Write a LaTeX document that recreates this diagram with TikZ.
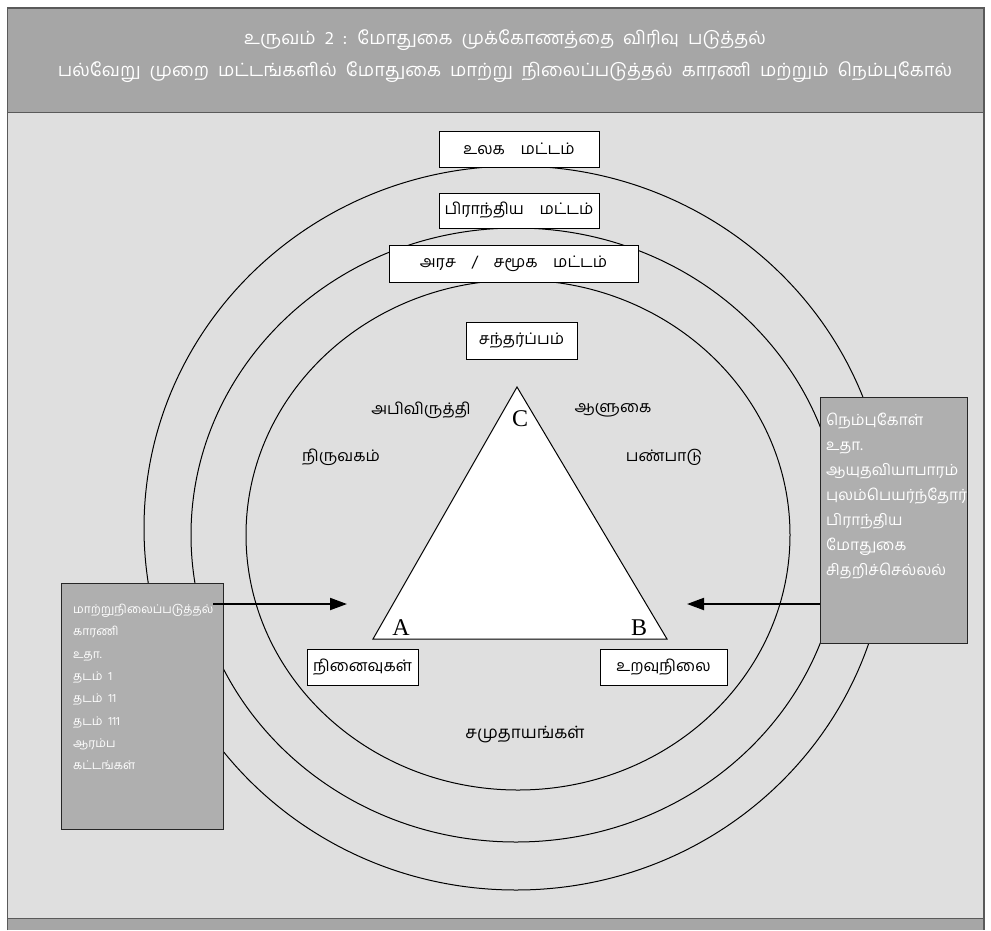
\documentclass[tikz,border=0pt]{standalone}
\usepackage{fontspec}
\setmainfont{Liberation Serif}
\newfontfamily\tamil[Script=Tamil,WordSpace=1.6]{Hind Madurai}
\newfontfamily\tamilwide[Script=Tamil,WordSpace=3.2]{Hind Madurai}
\newfontfamily\tamilhdr[Script=Tamil,WordSpace=2.0]{Hind Madurai}
\usetikzlibrary{arrows.meta}
\definecolor{hdrgray}{HTML}{A6A6A6}
\definecolor{bodygray}{HTML}{DFDFDF}
\definecolor{boxgray}{HTML}{AFAFAF}
\definecolor{framegray}{HTML}{5A5A5A}
\begin{document}
\begin{tikzpicture}[x=1pt,y=-1pt,
  lvlbox/.style={draw=black,fill=white,line width=1pt,inner sep=0pt,font=\tamilwide\fontsize{16}{18}\selectfont},
  ring/.style={draw=black,line width=1pt},
  plain/.style={font=\tamil\fontsize{16}{18}\selectfont,inner sep=0pt},
  corner/.style={font=\fontsize{24}{24}\selectfont,inner sep=0pt},
  sidebox/.style={draw=black!85,fill=boxgray,line width=1.2pt,inner sep=0pt,anchor=north west},
  sidetext/.style={text=white,align=left,inner sep=0pt,anchor=north west},
  arr/.style={line width=2pt,-{Triangle[length=17pt,width=12pt]}},
  hdr/.style={font=\tamilhdr\fontsize{18.3}{32}\selectfont,text=white,align=center,inner sep=0pt}
]
\useasboundingbox (0,0) rectangle (991,930);
\fill[white] (0,0) rectangle (991,930);
\fill[bodygray] (7.5,112.5) rectangle (984,918.5);
\fill[hdrgray] (7.5,8) rectangle (984,112.5);
\fill[hdrgray] (7.5,918.5) rectangle (984,930);
\draw[framegray,line width=1.5pt] (7.5,930) -- (7.5,8) -- (984,8) -- (984,930);
\draw[framegray,line width=1.5pt] (7.5,112.5) -- (984,112.5);
\draw[framegray,line width=1.5pt] (7.5,918.5) -- (984,918.5);

\node[hdr] (title) at (505,56) {உருவம் 2 : மோதுகை முக்கோணத்தை விரிவு படுத்தல்\\
பல்வேறு முறை மட்டங்களில் மோதுகை மாற்று நிலைப்படுத்தல் காரணி மற்றும் நெம்புகோல்};

% rings
\draw[ring] (516,528) ellipse [x radius=372pt, y radius=362pt];
\draw[ring] (516,535) ellipse [x radius=325pt, y radius=307pt];
\draw[ring] (518,535) ellipse [x radius=272pt, y radius=255pt];

% triangle
\draw[fill=white,line width=1pt] (517,387) -- (373,639) -- (667,639) -- cycle;
\node[corner] (C) at (520,419) {C};
\node[corner] (A) at (401,628) {A};
\node[corner] (B) at (639,628) {B};

% labels
\node[plain] (abi) at (421,410) {அபிவிருத்தி};
\node[plain] (alu) at (613,410) {ஆளுகை};
\node[plain] (niru) at (341,457) {நிருவகம்};
\node[plain] (pan) at (664,457) {பண்பாடு};
\node[plain,font=\tamil\fontsize{17}{18}\selectfont] (samu) at (525,735) {சமுதாயங்கள்};

% level boxes
\node[lvlbox,minimum width=160pt,minimum height=36pt] (world) at (519,149) {உலக மட்டம்};
\node[lvlbox,minimum width=160pt,minimum height=35pt] (region) at (519,210.5) {பிராந்திய மட்டம்};
\node[lvlbox,minimum width=249pt,minimum height=37pt] (state) at (513.5,263.5) {அரச / சமூக மட்டம்};
\node[lvlbox,minimum width=111pt,minimum height=37pt] (ctx) at (521.5,340.5) {சந்தர்ப்பம்};
\node[lvlbox,minimum width=111pt,minimum height=36pt] (mem) at (362.5,667) {நினைவுகள்};
\node[lvlbox,minimum width=127pt,minimum height=36pt] (rel) at (663.5,667) {உறவுநிலை};

% side boxes
\node[sidebox,minimum width=162pt,minimum height=246pt] (lbox) at (61,583) {};
\node[sidetext,font=\tamil\fontsize{12}{22.3}\selectfont] (ltext) at (73,604) {மாற்றுநிலைப்படுத்தல்\\காரணி\\உதா.\\தடம் 1\\தடம் 11\\தடம் 111\\ஆரம்ப\\கட்டங்கள்};
\node[sidebox,minimum width=147pt,minimum height=246pt] (rbox) at (820,397) {};
\node[sidetext,font=\tamil\fontsize{15.4}{25}\selectfont] (rtext) at (826,413) {நெம்புகோள்\\உதா.\\ஆயுதவியாபாரம்\\புலம்பெயர்ந்தோர்\\பிராந்திய\\மோதுகை\\சிதறிச்செல்லல்};

% arrows
\coordinate (lstart) at (213,604);
\coordinate (ltip) at (347,604);
\coordinate (rtip) at (687,604);
\draw[arr] (lstart) -- (ltip);
\draw[arr] (rbox.west |- rtip) -- (rtip);
\end{tikzpicture}
\end{document}
